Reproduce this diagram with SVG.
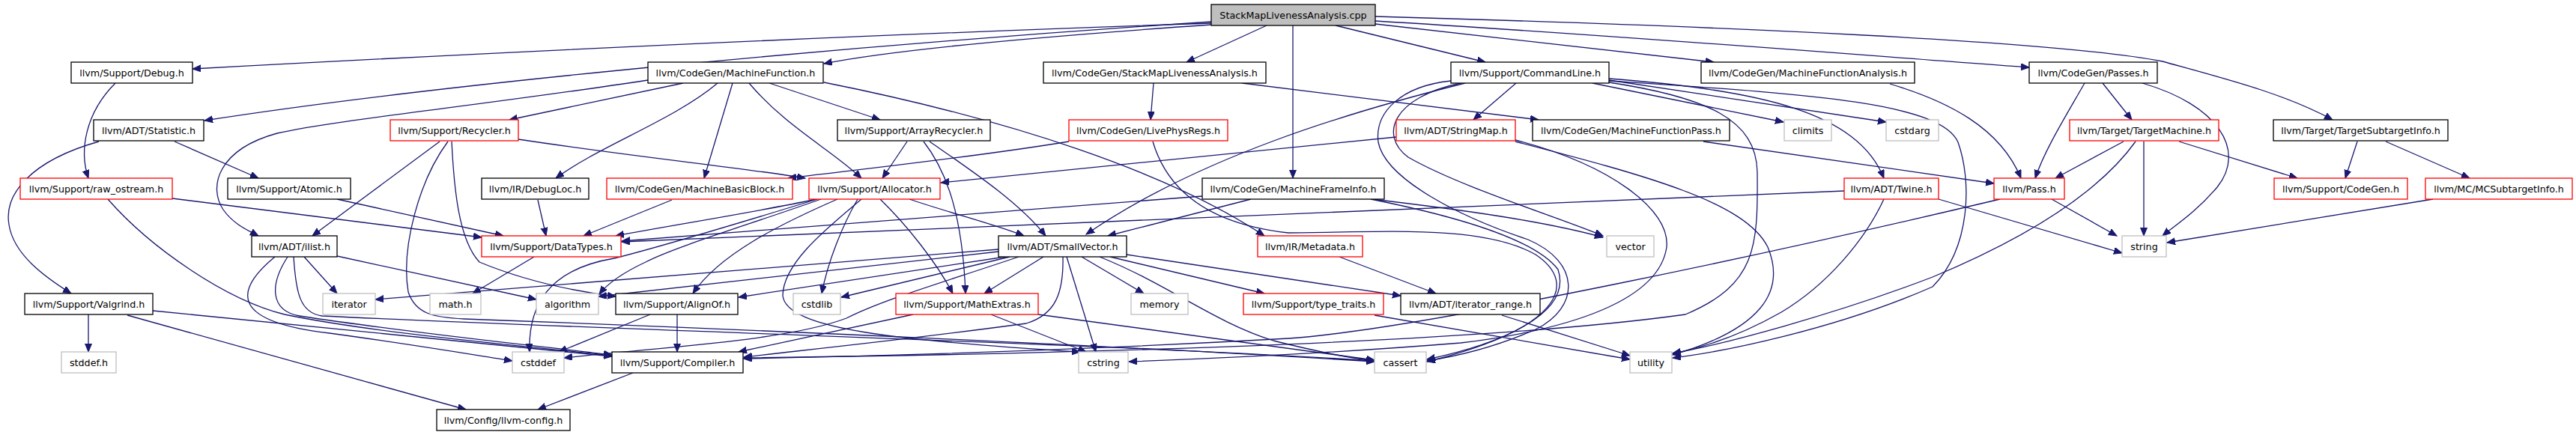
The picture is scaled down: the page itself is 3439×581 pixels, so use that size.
<svg xmlns="http://www.w3.org/2000/svg" width="3439" height="581" viewBox="0 0 3439 581">
<defs>
<style>
.nd rect{fill:#fff;stroke:#000;stroke-width:1.3}
.nd.r rect{stroke:#f00}
.nd.g rect{stroke:#bfbfbf}
.nd.root rect{fill:#bfbfbf}
.nd text{font-family:"DejaVu Sans","Liberation Sans",sans-serif;font-size:12.7px;text-anchor:middle;fill:#000}
#edges path{fill:none;stroke:#191970;stroke-width:1.3;marker-end:url(#arr)}
</style>
<marker id="arr" markerUnits="userSpaceOnUse" markerWidth="12" markerHeight="10" viewBox="0 0 12 10" refX="11" refY="4.5" orient="auto">
<path d="M0,0 L11,4.5 L0,9 z" fill="#191970" stroke="#191970" stroke-width="1"/>
</marker>
</defs>
<rect width="3439" height="581" fill="#fff"/>
<g id="edges">
<path d="M1617,31 C1200,45 700,68 257,92"/>
<path d="M1617,29 C1150,60 600,110 273,161"/>
<path d="M1617,33 C1400,48 1200,65 1100,85"/>
<path d="M1691,34 L1584,83"/>
<path d="M1726,34 L1726,238"/>
<path d="M1783,34 L1983,83"/>
<path d="M1836,32 L2288,83"/>
<path d="M1836,28 C2200,50 2500,75 2709,90"/>
<path d="M1836,22 C2300,35 2750,55 2887,82 C2970,105 3050,125 3114,160"/>
<path d="M154,111 C115,150 105,200 118,238"/>
<path d="M865,107 C650,140 450,160 370,178 C290,200 278,250 298,280 C312,300 332,308 345,315"/>
<path d="M912,111 L680,160"/>
<path d="M958,111 C900,160 800,195 742,238"/>
<path d="M978,111 L940,238"/>
<path d="M1000,111 C1050,170 1110,200 1150,238"/>
<path d="M1027,111 L1175,160"/>
<path d="M1100,110 C1350,160 1560,230 1688,315"/>
<path d="M1540,111 L1536,160"/>
<path d="M1658,111 L2054,160"/>
<path d="M2024,111 L1967,160"/>
<path d="M1956,111 C1800,150 1600,210 1450,313"/>
<path d="M2126,111 L2381,163"/>
<path d="M2148,107 L2518,163"/>
<path d="M2148,105 C2350,120 2480,150 2515,238"/>
<path d="M1950,111 C1860,130 1840,180 1880,210 C1950,250 2080,290 2140,315"/>
<path d="M1937,108 C1870,115 1835,150 1840,190 C1850,240 1950,290 2040,320 C2110,350 2110,410 2050,440 C2000,462 1950,475 1905,482"/>
<path d="M2148,110 C2280,130 2345,160 2346,230 C2347,330 2345,380 2250,420 C2000,455 1500,472 993,478"/>
<path d="M2148,108 C2400,125 2590,135 2614,190 C2632,240 2632,330 2580,383 C2450,440 2300,470 2233,478"/>
<path d="M2523,112 C2600,135 2670,170 2698,238"/>
<path d="M2783,111 C2755,160 2730,200 2717,238"/>
<path d="M2807,111 L2846,160"/>
<path d="M2860,111 C2960,140 3000,200 2960,250 C2930,285 2905,300 2887,315"/>
<path d="M233,189 L345,238"/>
<path d="M132,189 C40,215 5,260 12,300 C18,340 60,370 95,392"/>
<path d="M587,189 L417,315"/>
<path d="M603,189 C606,250 612,320 640,350 C700,375 760,388 822,396"/>
<path d="M692,186 C850,210 1000,225 1075,238"/>
<path d="M598,189 C560,240 535,330 545,390 C555,420 580,424 620,426 C1000,440 1500,462 1835,483"/>
<path d="M1211,189 L1178,238"/>
<path d="M1233,189 C1265,230 1285,290 1289,392"/>
<path d="M1241,189 C1300,230 1360,270 1396,315"/>
<path d="M1427,189 C1300,210 1150,226 1052,238"/>
<path d="M1539,189 C1560,260 1620,300 1720,311 C1850,310 1980,300 2050,340 C2110,380 2080,440 1905,483"/>
<path d="M1864,183 C1600,210 1400,230 1256,244"/>
<path d="M2023,187 C2150,220 2230,280 2225,330 C2215,400 2100,440 1950,458 C1800,470 1650,478 1507,483"/>
<path d="M2023,189 C2200,235 2330,270 2360,330 C2385,390 2350,440 2233,474"/>
<path d="M2274,189 L2662,245"/>
<path d="M2835,189 L2744,238"/>
<path d="M2909,189 L3067,238"/>
<path d="M2862,189 L2862,315"/>
<path d="M2851,189 C2800,260 2700,320 2580,370 C2450,420 2300,460 2233,472"/>
<path d="M3147,189 L3131,238"/>
<path d="M3185,189 L3297,238"/>
<path d="M230,265 L643,317"/>
<path d="M144,266 C200,330 300,400 380,420 C500,445 700,462 817,475"/>
<path d="M450,266 L672,315"/>
<path d="M718,267 L729,315"/>
<path d="M897,267 L779,315"/>
<path d="M1090,266 C1000,285 900,300 822,315"/>
<path d="M1096,266 C1000,300 900,330 862,350 C830,365 810,380 800,393"/>
<path d="M1091,266 C980,300 880,330 820,345 C730,360 705,410 707,470"/>
<path d="M1118,266 C1040,300 960,340 925,392"/>
<path d="M1145,266 C1125,300 1105,350 1097,392"/>
<path d="M1175,266 C1210,300 1250,350 1272,392"/>
<path d="M1214,266 C1270,285 1330,300 1367,315"/>
<path d="M1150,266 C1110,300 1045,350 1045,395 C1050,440 1200,455 1442,470"/>
<path d="M1605,262 L830,322"/>
<path d="M1670,266 L1479,315"/>
<path d="M1832,266 C1950,280 2060,295 2140,317"/>
<path d="M1830,266 C1950,290 2050,320 2080,360 C2100,420 2000,460 1905,480"/>
<path d="M2462,255 L830,323"/>
<path d="M2588,266 L2833,338"/>
<path d="M2515,266 C2490,320 2440,380 2378,417 C2320,450 2270,465 2233,472"/>
<path d="M2739,266 L2826,315"/>
<path d="M2670,266 C2400,330 1900,440 1720,452 C1400,470 1150,476 993,479"/>
<path d="M3248,266 L2893,324"/>
<path d="M367,343 C310,390 310,430 440,445 C550,460 620,472 684,482"/>
<path d="M384,343 C360,380 360,415 400,422 C550,445 700,460 817,474"/>
<path d="M392,343 C395,390 400,418 430,422 C800,440 1500,460 1835,482"/>
<path d="M406,343 L450,392"/>
<path d="M450,342 L716,400"/>
<path d="M713,343 L631,392"/>
<path d="M1333,333 L501,400"/>
<path d="M1333,336 L799,396"/>
<path d="M1342,343 L986,397"/>
<path d="M1348,343 L1123,397"/>
<path d="M1393,343 L1314,392"/>
<path d="M1444,343 L1527,392"/>
<path d="M1482,343 L1688,392"/>
<path d="M1504,340 L1870,395"/>
<path d="M1424,343 L1463,470"/>
<path d="M1468,343 C1560,380 1620,430 1700,455 C1760,470 1800,478 1835,482"/>
<path d="M1419,343 C1420,390 1410,420 1370,432 C1200,455 1050,470 993,477"/>
<path d="M1360,343 C1250,380 1180,400 1130,425 C1050,455 900,462 753,478"/>
<path d="M1219,420 L986,470"/>
<path d="M1323,420 L1450,470"/>
<path d="M1386,420 L1835,481"/>
<path d="M904,420 L904,470"/>
<path d="M868,420 L746,470"/>
<path d="M845,498 L718,547"/>
<path d="M118,420 L118,470"/>
<path d="M170,421 L622,547"/>
<path d="M204,415 L817,476"/>
<path d="M1788,343 L1917,392"/>
<path d="M1835,421 L2176,480"/>
<path d="M2005,421 L2176,475"/>
</g>
<g id="cpp" class="nd root"><rect x="1617" y="6" width="219" height="28"/><text x="1726.5" y="25">StackMapLivenessAnalysis.cpp</text></g>
<g id="debug" class="nd"><rect x="95" y="83" width="162" height="28"/><text x="176" y="102">llvm/Support/Debug.h</text></g>
<g id="mf" class="nd"><rect x="865" y="83" width="234" height="28"/><text x="982" y="102">llvm/CodeGen/MachineFunction.h</text></g>
<g id="smlah" class="nd"><rect x="1393" y="83" width="297" height="28"/><text x="1541.5" y="102">llvm/CodeGen/StackMapLivenessAnalysis.h</text></g>
<g id="cl" class="nd"><rect x="1937" y="83" width="211" height="28"/><text x="2042.5" y="102">llvm/Support/CommandLine.h</text></g>
<g id="mfa" class="nd"><rect x="2271" y="83" width="285" height="28"/><text x="2413.5" y="102">llvm/CodeGen/MachineFunctionAnalysis.h</text></g>
<g id="passes" class="nd"><rect x="2709" y="83" width="171" height="28"/><text x="2794.5" y="102">llvm/CodeGen/Passes.h</text></g>
<g id="statistic" class="nd"><rect x="125" y="160" width="147" height="28"/><text x="198.5" y="179">llvm/ADT/Statistic.h</text></g>
<g id="recycler" class="nd r"><rect x="521" y="160" width="171" height="28"/><text x="606.5" y="179">llvm/Support/Recycler.h</text></g>
<g id="arrayrecycler" class="nd"><rect x="1118" y="160" width="204" height="28"/><text x="1220" y="179">llvm/Support/ArrayRecycler.h</text></g>
<g id="livephysregs" class="nd r"><rect x="1427" y="160" width="212" height="28"/><text x="1533" y="179">llvm/CodeGen/LivePhysRegs.h</text></g>
<g id="stringmap" class="nd r"><rect x="1864" y="160" width="159" height="28"/><text x="1943.5" y="179">llvm/ADT/StringMap.h</text></g>
<g id="mfpass" class="nd"><rect x="2046" y="160" width="263" height="28"/><text x="2177.5" y="179">llvm/CodeGen/MachineFunctionPass.h</text></g>
<g id="climits" class="nd g"><rect x="2382" y="160" width="63" height="28"/><text x="2413.5" y="179">climits</text></g>
<g id="cstdarg" class="nd g"><rect x="2518" y="160" width="70" height="28"/><text x="2553" y="179">cstdarg</text></g>
<g id="targetmachine" class="nd r"><rect x="2763" y="160" width="199" height="28"/><text x="2862.5" y="179">llvm/Target/TargetMachine.h</text></g>
<g id="tsi" class="nd"><rect x="3035" y="160" width="233" height="28"/><text x="3151.5" y="179">llvm/Target/TargetSubtargetInfo.h</text></g>
<g id="rawostream" class="nd r"><rect x="27" y="238" width="203" height="28"/><text x="128.5" y="257">llvm/Support/raw_ostream.h</text></g>
<g id="atomic" class="nd"><rect x="304" y="238" width="164" height="28"/><text x="386" y="257">llvm/Support/Atomic.h</text></g>
<g id="debugloc" class="nd"><rect x="643" y="238" width="143" height="28"/><text x="714.5" y="257">llvm/IR/DebugLoc.h</text></g>
<g id="mbb" class="nd r"><rect x="810" y="238" width="248" height="28"/><text x="934" y="257">llvm/CodeGen/MachineBasicBlock.h</text></g>
<g id="allocator" class="nd r"><rect x="1080" y="238" width="175" height="28"/><text x="1167.5" y="257">llvm/Support/Allocator.h</text></g>
<g id="mfi" class="nd"><rect x="1605" y="238" width="243" height="28"/><text x="1726.5" y="257">llvm/CodeGen/MachineFrameInfo.h</text></g>
<g id="twine" class="nd r"><rect x="2462" y="238" width="126" height="28"/><text x="2525" y="257">llvm/ADT/Twine.h</text></g>
<g id="pass" class="nd r"><rect x="2662" y="238" width="94" height="28"/><text x="2709" y="257">llvm/Pass.h</text></g>
<g id="codegen" class="nd r"><rect x="3036" y="238" width="178" height="28"/><text x="3125" y="257">llvm/Support/CodeGen.h</text></g>
<g id="mcsti" class="nd r"><rect x="3238" y="238" width="196" height="28"/><text x="3336" y="257">llvm/MC/MCSubtargetInfo.h</text></g>
<g id="ilist" class="nd"><rect x="336" y="315" width="114" height="28"/><text x="393" y="334">llvm/ADT/ilist.h</text></g>
<g id="datatypes" class="nd r"><rect x="643" y="315" width="186" height="28"/><text x="736" y="334">llvm/Support/DataTypes.h</text></g>
<g id="smallvector" class="nd"><rect x="1333" y="315" width="171" height="28"/><text x="1418.5" y="334">llvm/ADT/SmallVector.h</text></g>
<g id="metadata" class="nd r"><rect x="1679" y="315" width="140" height="28"/><text x="1749" y="334">llvm/IR/Metadata.h</text></g>
<g id="vector" class="nd g"><rect x="2145" y="315" width="63" height="28"/><text x="2176.5" y="334">vector</text></g>
<g id="string" class="nd g"><rect x="2833" y="315" width="59" height="28"/><text x="2862.5" y="334">string</text></g>
<g id="valgrind" class="nd"><rect x="33" y="392" width="171" height="28"/><text x="118.5" y="411">llvm/Support/Valgrind.h</text></g>
<g id="iterator" class="nd g"><rect x="431" y="392" width="70" height="28"/><text x="466" y="411">iterator</text></g>
<g id="math" class="nd g"><rect x="574" y="392" width="68" height="28"/><text x="608" y="411">math.h</text></g>
<g id="algorithm" class="nd g"><rect x="716" y="392" width="83" height="28"/><text x="757.5" y="411">algorithm</text></g>
<g id="alignof" class="nd"><rect x="822" y="392" width="163" height="28"/><text x="903.5" y="411">llvm/Support/AlignOf.h</text></g>
<g id="cstdlib" class="nd g"><rect x="1059" y="392" width="63" height="28"/><text x="1090.5" y="411">cstdlib</text></g>
<g id="mathextras" class="nd r"><rect x="1196" y="392" width="190" height="28"/><text x="1291" y="411">llvm/Support/MathExtras.h</text></g>
<g id="memory" class="nd g"><rect x="1510" y="392" width="76" height="28"/><text x="1548" y="411">memory</text></g>
<g id="typetraits" class="nd r"><rect x="1660" y="392" width="187" height="28"/><text x="1753.5" y="411">llvm/Support/type_traits.h</text></g>
<g id="iteratorrange" class="nd"><rect x="1870" y="392" width="186" height="28"/><text x="1963" y="411">llvm/ADT/iterator_range.h</text></g>
<g id="stddef" class="nd g"><rect x="82" y="470" width="73" height="28"/><text x="118.5" y="489">stddef.h</text></g>
<g id="cstddef" class="nd g"><rect x="684" y="470" width="69" height="28"/><text x="718.5" y="489">cstddef</text></g>
<g id="compiler" class="nd"><rect x="817" y="470" width="175" height="28"/><text x="904.5" y="489">llvm/Support/Compiler.h</text></g>
<g id="cstring" class="nd g"><rect x="1440" y="470" width="66" height="28"/><text x="1473" y="489">cstring</text></g>
<g id="cassert" class="nd g"><rect x="1835" y="470" width="69" height="28"/><text x="1869.5" y="489">cassert</text></g>
<g id="utility" class="nd g"><rect x="2176" y="470" width="56" height="28"/><text x="2204" y="489">utility</text></g>
<g id="llvmconfig" class="nd"><rect x="583" y="547" width="178" height="28"/><text x="672" y="566">llvm/Config/llvm-config.h</text></g>
</svg>
